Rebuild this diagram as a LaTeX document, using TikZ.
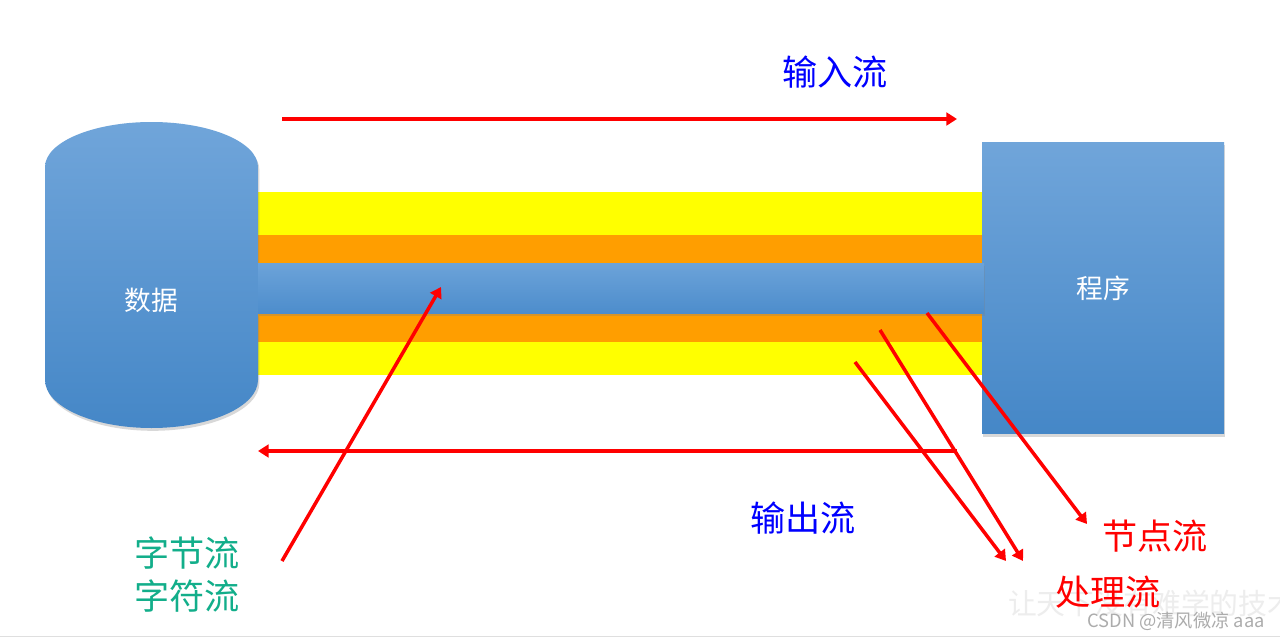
\documentclass[tikz,border=0pt]{standalone}
\usepackage{fontspec}
\newfontfamily\cjk{Noto Sans CJK SC}
\usetikzlibrary{arrows.meta,shadows}

\definecolor{niebGora}{HTML}{70A5DA}
\definecolor{niebDol}{HTML}{4587C7}
\definecolor{kanalGora}{HTML}{6CA3D9}
\definecolor{kanalDol}{HTML}{4D8DCC}
\definecolor{zolty}{HTML}{FFFF00}
\definecolor{pomarancz}{HTML}{FF9E00}
\definecolor{zielony}{HTML}{12AE8A}

\tikzset{
  strzalka/.style={draw=red, line width=5pt, -{Triangle[length=15pt,width=18pt]}},
  duzy/.style={font=\cjk\fontsize{50}{60}\selectfont, inner sep=0pt},
  cien/.style={drop shadow={shadow xshift=2pt, shadow yshift=-4pt, opacity=0.3}},
  progbox/.style={top color=niebGora, bottom color=niebDol, cien,
    minimum width=12.1cm, minimum height=14.6cm, text=white,
    font=\cjk\fontsize{38}{44}\selectfont}
}

\begin{document}
\begin{tikzpicture}[x=0.05cm,y=-0.05cm]
    \useasboundingbox (0,0) rectangle (1280,639);
    \fill[white] (0,0) rectangle (1280,639);

    % Pasy strumienia
    \fill[zolty] (258,192) rectangle (982,375);
    \fill[pomarancz] (258,235) rectangle (982,342);

    % Dane (walec)
    \path[top color=niebGora, bottom color=niebDol, cien]
      (45,167) arc[start angle=180, end angle=0, x radius=5.325cm, y radius=2.25cm]
      -- (258,380) arc[start angle=0, end angle=-180, x radius=5.325cm, y radius=2.4cm]
      -- cycle;
    \node[text=white, font=\cjk\fontsize{38}{44}\selectfont] (dane) at (151,300) {数据};

    % Program
    \node[progbox] (program) at (1103,288) {程序};

    % Niebieski kanal
    \path[top color=kanalGora, bottom color=kanalDol, cien] (258,263) rectangle (984,313);

    % Znak wodny
    \begin{scope}
      \clip (0,0) rectangle (1280,639);
      \node[anchor=west, text=gray!14, font=\cjk\fontsize{41}{44}\selectfont, inner sep=0pt] (napis) at (1008,603) {让天下没有难学的技术};
    \end{scope}
    \draw[gray!25, line width=1pt] (0,636) -- (1280,636);

    % Strumien wejsciowy
    \coordinate (we1) at (282,119);
    \coordinate (we2) at (957,119);
    \draw[strzalka] (we1) -- (we2);
    \node[duzy, text=blue] (wejscie) at (835,72) {输入流};

    % Strumien wyjsciowy
    \coordinate (wy1) at (957,451);
    \coordinate (wy2) at (258,451);
    \draw[strzalka] (wy1) -- (wy2);
    \node[duzy, text=blue] (wyjscie) at (803,518) {输出流};

    % Bajty i znaki
    \node[duzy, text=zielony] (bajty) at (187,553) {字节流};
    \node[duzy, text=zielony] (znaki) at (187,596) {字符流};
    \coordinate (zn1) at (282,561);
    \coordinate (zn2) at (441,287);
    \draw[strzalka] (zn1) -- (zn2);

    % Wezly i przetwarzanie
    \coordinate (wz1) at (927,313);
    \coordinate (wz2) at (1087,524);
    \draw[strzalka] (wz1) -- (wz2);
    \node[duzy, text=red] (wezly) at (1155,536) {节点流};

    \coordinate (pr1) at (880,330);
    \coordinate (pr2) at (1023,561);
    \coordinate (pr3) at (855,362);
    \coordinate (pr4) at (1006,561);
    \draw[strzalka] (pr1) -- (pr2);
    \draw[strzalka] (pr3) -- (pr4);
    \node[duzy, text=red] (przetw) at (1108,592) {处理流};

    % Podpis
    \node[text=gray!65, font=\cjk\fontsize{26}{30}\selectfont, inner sep=0pt] (csdn) at (1176,621) {CSDN @清风微凉 aaa};
\end{tikzpicture}
\end{document}
